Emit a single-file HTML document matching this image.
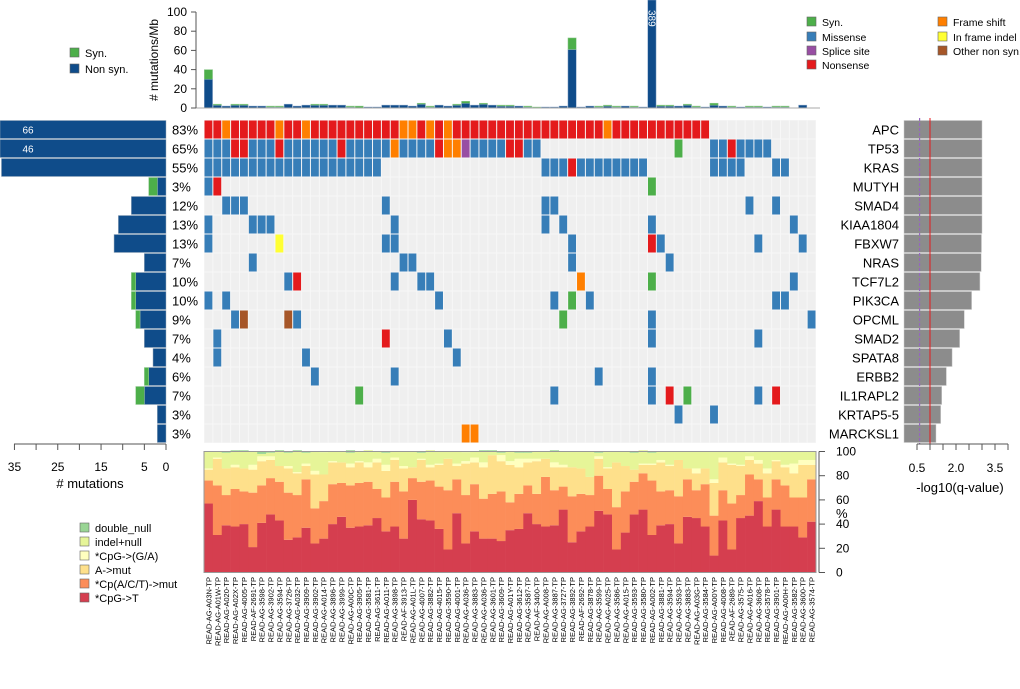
<!DOCTYPE html>
<html><head><meta charset="utf-8"><style>
body{margin:0;background:#fff;font-family:"Liberation Sans",sans-serif}
svg text{font-family:"Liberation Sans",sans-serif}
</style></head><body>
<svg id="c" width="1020" height="684" xmlns="http://www.w3.org/2000/svg"></svg>
<script>
const genes=["APC","TP53","KRAS","MUTYH","SMAD4","KIAA1804","FBXW7","NRAS","TCF7L2","PIK3CA","OPCML","SMAD2","SPATA8","ERBB2","IL1RAPL2","KRTAP5-5","MARCKSL1"];
const pcts=["83%","65%","55%","3%","12%","13%","13%","7%","10%","10%","9%","7%","4%","6%","7%","3%","3%"];
const geneNonSyn=[66,46,38,2,8,11,12,5,7,7,6,5,3,4,5,2,2];
const geneSyn=[0,0,0,2,0,0,0,0,1,1,1,0,0,1,2,0,0];
const qvals=[3.0,3.0,3.0,3.0,3.0,3.0,2.98,2.97,2.92,2.6,2.32,2.14,1.85,1.63,1.45,1.41,1.23];
const samples=["A03N","A01W","A020","A02X","4005","AF-2691","3598","3902","3594","3726","A032","3909","3902","A014","3896","3999","A00C","3905","3581","3611","A011","3898","AF-3913","A01L","4007","3882","4015","3590","4001","A036","3883","A036","3601","3609","A01Y","3612","3587","AF-3400","A008","3887","3727","3892","AF-2692","3878","3599","A025","3586","A015","3593","3580","A002","3881","3594","3593","3883","A03G","3584","A00Y","4008","AF-2689","3575","A016","3608","3578","3901","A00H","3582","3600","3574"];
const muts=[];
(function(){
 const apcF=[2,8,11,22,23,25,27,45];
 for(let i=0;i<=56;i++)muts.push([0,i,apcF.includes(i)?"F":"N"]);
 const tp={3:"N",4:"N",8:"N",15:"N",21:"F",26:"N",27:"F",28:"F",29:"P",34:"N",35:"N",53:"S",59:"N"};
 const tpS=[];for(let i=0;i<=37;i++)tpS.push(i);tpS.push(53);for(let i=57;i<=63;i++)tpS.push(i);
 tpS.forEach(i=>muts.push([1,i,tp[i]||"M"]));
 const kr=[];for(let i=0;i<=19;i++)kr.push(i);for(let i=38;i<=49;i++)kr.push(i);[57,58,59,60,64,65].forEach(i=>kr.push(i));
 kr.forEach(i=>muts.push([2,i,i==41?"N":"M"]));
})();
const rest=[
[3,0,"M"],[3,1,"N"],[3,50,"S"],
[4,2,"M"],[4,3,"M"],[4,4,"M"],[4,20,"M"],[4,38,"M"],[4,39,"M"],[4,61,"M"],[4,64,"M"],
[5,0,"M"],[5,5,"M"],[5,6,"M"],[5,7,"M"],[5,21,"M"],[5,38,"M"],[5,40,"M"],[5,50,"M"],[5,66,"M"],
[6,0,"M"],[6,8,"I"],[6,20,"M"],[6,21,"M"],[6,41,"M"],[6,50,"N"],[6,51,"M"],[6,62,"M"],[6,67,"M"],
[7,5,"M"],[7,22,"M"],[7,23,"M"],[7,41,"M"],[7,52,"M"],
[8,9,"M"],[8,10,"N"],[8,21,"M"],[8,24,"M"],[8,25,"M"],[8,42,"F"],[8,50,"S"],[8,66,"M"],
[9,0,"M"],[9,2,"M"],[9,26,"M"],[9,39,"M"],[9,41,"S"],[9,43,"M"],[9,64,"M"],[9,65,"M"],
[10,3,"M"],[10,4,"O"],[10,9,"O"],[10,10,"M"],[10,40,"S"],[10,50,"M"],[10,68,"M"],
[11,1,"M"],[11,20,"N"],[11,27,"M"],[11,50,"M"],[11,62,"M"],
[12,1,"M"],[12,11,"M"],[12,28,"M"],
[13,12,"M"],[13,21,"M"],[13,44,"M"],[13,50,"M"],
[14,17,"S"],[14,39,"M"],[14,50,"M"],[14,52,"N"],[14,54,"S"],[14,62,"M"],[14,64,"N"],
[15,53,"M"],[15,57,"M"],
[16,29,"F"],[16,30,"F"]];
rest.forEach(r=>muts.push(r));
const tmbNonSyn=[30,3,2,3,3,2,2,1,1,4,2,3,3,3,3,3,1,0,1,1,3,3,3,2,4,1,3,2,3,5,3,4,3,2,2,2,1,0,1,1,2,61,1,2,1,2,1,2,1,1,389,2,2,2,3,1,1,3,2,1,1,1,1,1,1,1,0,3,0];
const tmbSyn=[10,1,0,1,1,0,0,1,1,0,0,0,1,1,0,0,1,2,0,0,0,0,0,0,1,1,0,0,1,2,0,1,0,1,1,0,1,1,0,0,0,12,0,0,1,1,1,0,1,0,0,1,1,0,1,1,0,2,0,1,0,1,1,0,1,1,0,0,0];
const pCpGT=[57,31,39,38,40,21,41,48,43,27,29,37,24,28,40,46,37,38,39,45,34,38,28,60,44,43,36,19,49,24,34,28,28,26,35,36,49,40,38,39,52,25,34,38,51,48,19,33,48,52,31,39,40,24,46,45,38,14,43,19,45,47,59,38,52,38,38,29,42];
const pCpAT=[19,41,25,31,27,45,31,30,32,39,35,40,29,31,33,28,35,36,36,24,28,37,39,18,31,33,35,49,28,40,39,33,37,41,23,29,23,25,41,29,19,38,31,26,29,21,35,34,27,30,45,28,28,39,31,23,35,33,25,38,19,34,18,24,25,34,24,33,35];
const pAmut=[9,22,22,18,19,19,20,15,13,20,18,11,28,22,18,17,15,17,12,22,22,18,19,9,18,11,18,26,11,26,18,26,32,25,31,22,19,27,15,19,16,24,21,15,14,17,37,21,10,7,13,24,20,30,9,14,13,27,23,32,24,12,13,20,15,15,20,27,12];
const pCpGGA=[1,1,0,2,0,4,4,3,0,2,1,2,3,0,1,0,3,1,4,3,5,2,2,0,1,2,1,0,2,2,4,4,0,5,3,7,3,2,0,4,2,0,0,0,2,1,0,0,0,1,1,2,1,0,0,4,0,3,4,1,1,3,3,4,1,2,8,4,4];
const pIndel=[14,5,13,11,14,11,2,3,12,11,17,9,16,18,8,9,9,8,10,6,10,5,12,13,5,12,10,6,10,7,5,9,3,2,8,5,5,6,6,9,11,13,14,21,3,13,9,12,14,11,9,7,11,7,14,14,14,23,5,10,11,3,7,14,7,11,10,7,7];
const pDouble=[0,0,1,1,1,0,2,1,1,1,1,1,0,0,0,0,2,0,0,0,1,0,0,0,1,0,0,0,0,0,0,1,1,1,0,1,1,0,0,1,0,0,0,0,1,0,0,0,1,0,1,0,0,0,0,0,0,0,0,0,0,0,0,0,0,0,0,0,0];

const svg=document.getElementById('c');
const NS="http://www.w3.org/2000/svg";
function el(tag,attrs,parent){const e=document.createElementNS(NS,tag);for(const k in attrs)e.setAttribute(k,attrs[k]);(parent||svg).appendChild(e);return e;}
function tx(x,y,s,str,anchor,fill,rot,parent){const e=el('text',{x:x,y:y,'font-size':s,'text-anchor':anchor||'start',fill:fill||'#000'},parent);if(rot)e.setAttribute('transform','rotate('+rot+' '+x+' '+y+')');e.textContent=str;return e;}

const X0=204,CW=612/69,Y0=120,RH=19;
const colX=i=>X0+i*CW;
const rowY=g=>Y0+g*RH;
const colors={M:"#377eb8",N:"#e41a1c",F:"#ff7f00",S:"#4daf4a",I:"#ffff33",P:"#984ea3",O:"#a65628"};
const DB="#0f4c8a";

const grid=el('g',{});


el('rect',{x:X0,y:Y0,width:612,height:RH*17,fill:'#f7f7f7'},grid);
for(let g=0;g<17;g++)for(let i=0;i<69;i++){
 el('rect',{x:colX(i)+0.5,y:rowY(g)+0.5,width:CW-1,height:RH-1,fill:'#efefef'},grid);
}
muts.forEach(m=>{
 const r=el('rect',{x:colX(m[1])+0.5,y:rowY(m[0])+0.5,width:CW-1,height:RH-1,fill:colors[m[2]]},grid);
 
 
});

const LX=166,LS=4.33;
const lg=el('g',{});


genes.forEach((g,k)=>{
 const y=rowY(k)+0.5,h=RH-1;
 const w1=geneNonSyn[k]*LS,w2=geneSyn[k]*LS;
 const b=el('rect',{x:Math.max(0,LX-w1),y:y,width:Math.min(LX,w1),height:h,fill:DB,stroke:'#9ab',"stroke-width":0.5},lg);
 
 
 if(w2>0){const s=el('rect',{x:LX-w1-w2,y:y,width:w2,height:h,fill:'#4daf4a',stroke:'#9c9',"stroke-width":0.5},lg);
 
 }
 if(geneNonSyn[k]*LS>LX){const t=tx(28,y+13,10,String(geneNonSyn[k]),'middle','#fff',0);
 
 }
 const p=tx(172,y+14,13,pcts[k],'start','#000',0);
 
 
 const gl=tx(899,y+14,13,g,'end','#000',0);
 
 
});
el('line',{x1:14,y1:444,x2:166,y2:444,stroke:'#555'});
[35,30,25,20,15,10,5,0].forEach(v=>el('line',{x1:LX-v*LS,y1:444,x2:LX-v*LS,y2:450,stroke:'#555'}));
[35,25,15,5,0].forEach(v=>tx(LX-v*LS,471,12,String(v),'middle'));
tx(90,488,13,'# mutations','middle');

const QX=904,QS=26;
genes.forEach((g,k)=>{
 const b=el('rect',{x:QX,y:rowY(k)+0.5,width:qvals[k]*QS,height:RH-1,fill:'#8c8c8c',stroke:'#ccc',"stroke-width":0.5});
 
 
});
el('line',{x1:QX+0.6*QS,y1:118,x2:QX+0.6*QS,y2:444,stroke:'#9467bd','stroke-dasharray':'3,2','stroke-width':1.2});
el('line',{x1:QX+1*QS,y1:118,x2:QX+1*QS,y2:444,stroke:'#e41a1c'});
el('line',{x1:QX+0.5*QS,y1:444,x2:QX+4*QS,y2:444,stroke:'#555'});
for(let v=0.5;v<=4.01;v+=0.5)el('line',{x1:QX+v*QS,y1:444,x2:QX+v*QS,y2:450,stroke:'#555'});
[["0.5",0.5],["2.0",2],["3.5",3.5]].forEach(a=>tx(QX+a[1]*QS,472,12,a[0],'middle'));
tx(960,492,13,'-log10(q-value)','middle');

const TY=108,TS=0.96;
const tg=el('g',{});


for(let i=0;i<69;i++){
 const h1=Math.min(tmbNonSyn[i]*TS,108),h2=tmbSyn[i]*TS;
 if(h1>0){const b=el('rect',{x:colX(i)+0.3,y:TY-h1,width:CW-0.6,height:h1,fill:DB,stroke:'#8aa6c8','stroke-width':0.5},tg);
 
 }
 if(h2>0&&h1<108){const s=el('rect',{x:colX(i)+0.3,y:TY-h1-h2,width:CW-0.6,height:h2,fill:'#4daf4a',stroke:'#9c9','stroke-width':0.5},tg);
 
 }
 if(tmbNonSyn[i]>100){const t=tx(colX(i)+1.2,10,10,String(tmbNonSyn[i]),'start','#fff',90,tg);
 
 }
}
el('line',{x1:195,y1:108,x2:820,y2:108,stroke:'#aaa'});
el('line',{x1:196,y1:12,x2:196,y2:108,stroke:'#555'});
[0,20,40,60,80,100].forEach(v=>{el('line',{x1:191,y1:TY-v*TS,x2:196,y2:TY-v*TS,stroke:'#555'});tx(187,TY-v*TS+4,12,String(v),'end');});
tx(158,60,12,'# mutations/Mb','middle','#000',-90);

const BY=572.5,BS=1.21;
const series=[[pCpGT,'#d53e4f'],[pCpAT,'#fc8d59'],[pAmut,'#fee08b'],[pCpGGA,'#ffffbf'],[pIndel,'#e6f598'],[pDouble,'#99d594']];
const bg=el('g',{});


for(let i=0;i<69;i++){
 let acc=0;
 series.forEach(s=>{const v=s[0][i];
  const r=el('rect',{x:colX(i),y:BY-(acc+v)*BS,width:CW+0.3,height:v*BS,fill:s[1]},bg);
  
  
  acc+=v;});
 if(acc<100){el('rect',{x:colX(i),y:BY-100*BS,width:CW+0.3,height:(100-acc)*BS,fill:'#e6f598'},bg);}
}
el('rect',{x:204,y:BY-100*BS,width:612,height:100*BS,fill:'none',stroke:'#999'});
el('line',{x1:819,y1:BY,x2:819,y2:BY-100*BS,stroke:'#555'});
[0,20,40,60,80,100].forEach(v=>{el('line',{x1:819,y1:BY-v*BS,x2:825,y2:BY-v*BS,stroke:'#555'});tx(836,BY-v*BS+4,12,String(v),'start');});
tx(836,518,13,'%','start');

samples.forEach((s,i)=>{
 const pre=s.startsWith('AF')?'READ-':'READ-AG-';
 const x=colX(i)+CW/2+3;
 const t=tx(x,577,7.5,pre+s+'-TP','end','#000',-90);
 
 
});

function leg(x,y,color,label,name,fs){
 const g=el('g',{});
 
 
 el('rect',{x:x,y:y,width:9,height:9,fill:color,stroke:'#666','stroke-width':0.6},g);
 tx(x+15,y+9,fs||11,label,'start','#000',0,g);
}
leg(70,48,'#4daf4a','Syn.','legend-syn');
leg(70,64,DB,'Non syn.','legend-nonsyn');
leg(807,17,'#4daf4a','Syn.','legend-top-syn',10.5);
leg(807,32,'#377eb8','Missense','legend-missense',10.5);
leg(807,46,'#984ea3','Splice site','legend-splice',10.5);
leg(807,60,'#e41a1c','Nonsense','legend-nonsense',10.5);
leg(938,17,'#ff7f00','Frame shift','legend-frameshift',10.5);
leg(938,32,'#ffff33','In frame indel','legend-inframe',10.5);
leg(938,46,'#a65628','Other non syn.','legend-other',10.5);
leg(80,523,'#99d594','double_null','legend-double-null');
leg(80,537,'#e6f598','indel+null','legend-indel-null');
leg(80,551,'#ffffbf','*CpG->(G/A)','legend-cpg-ga');
leg(80,565,'#fee08b','A->mut','legend-a-mut');
leg(80,579,'#fc8d59','*Cp(A/C/T)->mut','legend-cpact');
leg(80,593,'#d53e4f','*CpG->T','legend-cpg-t');
</script>
</body></html>
